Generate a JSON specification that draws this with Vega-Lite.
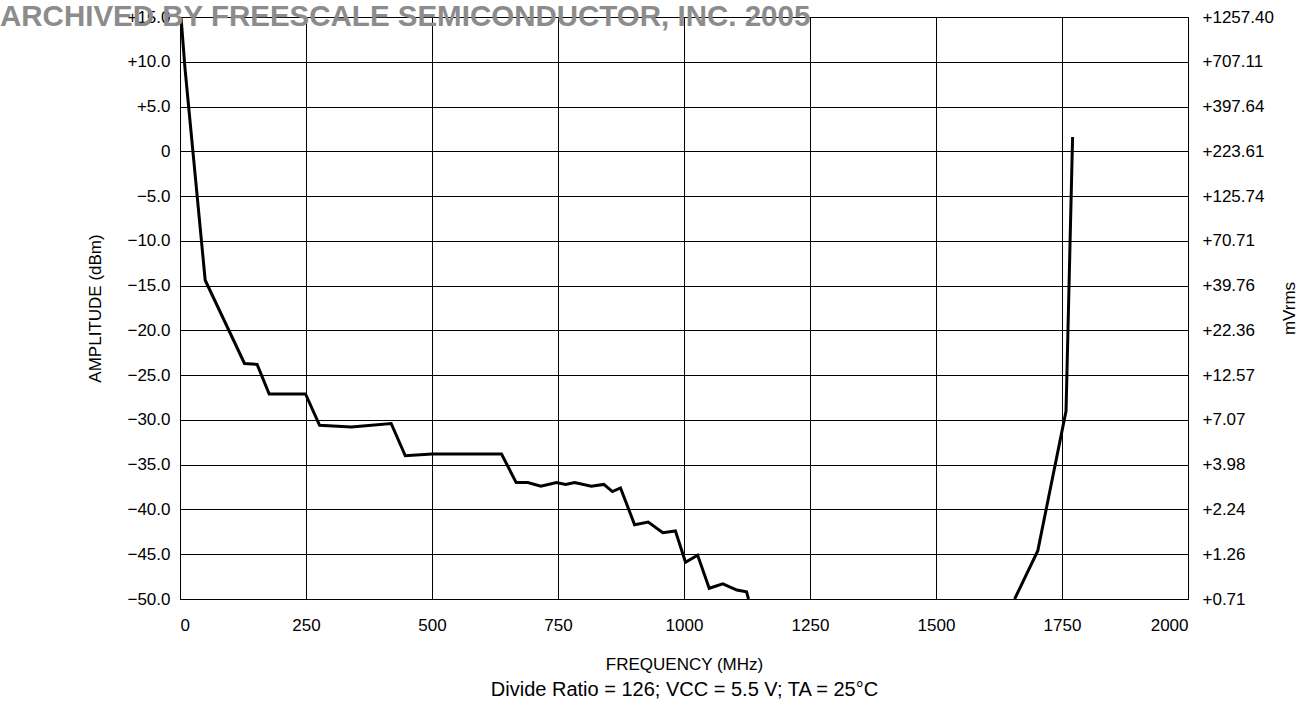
{
  "$schema": "https://vega.github.io/schema/vega-lite/v6.json",
  "width": 1008,
  "height": 582,
  "autosize": {"type": "none"},
  "padding": {"left": 180, "top": 17, "right": 111, "bottom": 110},
  "background": "white",
  "config": {
    "font": "Liberation Sans, Arial, sans-serif",
    "view": {"stroke": "black", "strokeWidth": 1},
    "axis": {"labelColor": "black", "titleColor": "black", "labelFont": "Liberation Sans, Arial, sans-serif", "titleFont": "Liberation Sans, Arial, sans-serif", "titleFontWeight": "normal"}
  },
  "title": {
    "text": "ARCHIVED BY FREESCALE SEMICONDUCTOR, INC. 2005",
    "anchor": "start",
    "frame": "group",
    "font": "Liberation Sans, Arial, sans-serif",
    "fontSize": 29.5,
    "fontWeight": "bold",
    "color": "#8c8c8c",
    "baseline": "alphabetic",
    "offset": 0,
    "dx": -180,
    "dy": 47
  },
  "data": {
    "values": [
      {"f": 2, "dbm": 15.0, "band": "low"},
      {"f": 10, "dbm": 9.2, "band": "low"},
      {"f": 50, "dbm": -14.4, "band": "low"},
      {"f": 128, "dbm": -23.7, "band": "low"},
      {"f": 153, "dbm": -23.8, "band": "low"},
      {"f": 177, "dbm": -27.1, "band": "low"},
      {"f": 249, "dbm": -27.1, "band": "low"},
      {"f": 277, "dbm": -30.6, "band": "low"},
      {"f": 340, "dbm": -30.8, "band": "low"},
      {"f": 419, "dbm": -30.4, "band": "low"},
      {"f": 447, "dbm": -34.0, "band": "low"},
      {"f": 500, "dbm": -33.8, "band": "low"},
      {"f": 638, "dbm": -33.8, "band": "low"},
      {"f": 667, "dbm": -37.0, "band": "low"},
      {"f": 690, "dbm": -37.0, "band": "low"},
      {"f": 716, "dbm": -37.4, "band": "low"},
      {"f": 747, "dbm": -37.0, "band": "low"},
      {"f": 765, "dbm": -37.2, "band": "low"},
      {"f": 783, "dbm": -37.0, "band": "low"},
      {"f": 816, "dbm": -37.4, "band": "low"},
      {"f": 841, "dbm": -37.2, "band": "low"},
      {"f": 858, "dbm": -38.0, "band": "low"},
      {"f": 874, "dbm": -37.6, "band": "low"},
      {"f": 902, "dbm": -41.7, "band": "low"},
      {"f": 929, "dbm": -41.4, "band": "low"},
      {"f": 958, "dbm": -42.6, "band": "low"},
      {"f": 983, "dbm": -42.4, "band": "low"},
      {"f": 1003, "dbm": -45.9, "band": "low"},
      {"f": 1027, "dbm": -45.1, "band": "low"},
      {"f": 1050, "dbm": -48.8, "band": "low"},
      {"f": 1077, "dbm": -48.3, "band": "low"},
      {"f": 1105, "dbm": -49.0, "band": "low"},
      {"f": 1124, "dbm": -49.2, "band": "low"},
      {"f": 1128, "dbm": -50.0, "band": "low"},
      {"f": 1656, "dbm": -50.0, "band": "high"},
      {"f": 1702, "dbm": -44.6, "band": "high"},
      {"f": 1758, "dbm": -29.0, "band": "high"},
      {"f": 1771, "dbm": 1.6, "band": "high"}
    ]
  },
  "layer": [
    {
      "mark": {"type": "line", "color": "black", "strokeWidth": 3, "strokeJoin": "miter", "clip": true},
      "encoding": {
        "x": {
          "field": "f", "type": "quantitative",
          "scale": {"domain": [0, 2000], "nice": false},
          "axis": {
            "values": [0, 250, 500, 750, 1000, 1250, 1500, 1750, 2000],
            "format": "d",
            "grid": true, "gridColor": "black", "gridOpacity": 1, "gridWidth": 1,
            "ticks": false, "domain": true, "domainColor": "black",
            "labelFontSize": 17, "labelPadding": 18,
            "title": "FREQUENCY (MHz)",
            "titleFontSize": 17, "titlePadding": 23
          }
        },
        "y": {
          "field": "dbm", "type": "quantitative",
          "scale": {"domain": [-50, 15], "nice": false, "zero": false},
          "axis": {
            "values": [15, 10, 5, 0, -5, -10, -15, -20, -25, -30, -35, -40, -45, -50],
            "labelExpr": "datum.value > 0 ? '+' + format(datum.value, '.1f') : (datum.value == 0 ? '0' : '\u2212' + format(-datum.value, '.1f'))",
            "grid": true, "gridColor": "black", "gridOpacity": 1, "gridWidth": 1,
            "ticks": false, "domain": true, "domainColor": "black",
            "labelFontSize": 17, "labelPadding": 10,
            "title": "AMPLITUDE (dBm)", "titleFontSize": 17, "titlePadding": 22
          }
        },
        "detail": {"field": "band", "type": "nominal"}
      }
    },
    {
      "mark": {"type": "line", "opacity": 0},
      "encoding": {
        "x": {
          "field": "f", "type": "quantitative",
          "scale": {"domain": [0, 2000], "nice": false},
          "axis": {
            "orient": "bottom",
            "labels": false, "ticks": false, "domain": false, "grid": false,
            "title": "Divide Ratio = 126; VCC = 5.5 V; TA = 25°C",
            "titleFontSize": 20, "titlePadding": 80
          }
        },
        "y": {
          "field": "dbm", "type": "quantitative",
          "scale": {"domain": [-50, 15], "nice": false, "zero": false},
          "axis": {
            "orient": "right",
            "values": [15, 10, 5, 0, -5, -10, -15, -20, -25, -30, -35, -40, -45, -50],
            "labelExpr": "datum.value == 15 ? '+1257.40' : '+' + format(223.607 * pow(10, datum.value / 20), '.2f')",
            "grid": false, "ticks": false, "domain": false,
            "labelFontSize": 17, "labelPadding": 14,
            "title": "mVrms", "titleFontSize": 17, "titleAngle": 270, "titlePadding": 25
          }
        },
        "detail": {"field": "band", "type": "nominal"}
      }
    }
  ],
  "resolve": {"scale": {"y": "independent"}, "axis": {"y": "independent", "x": "independent"}}
}
